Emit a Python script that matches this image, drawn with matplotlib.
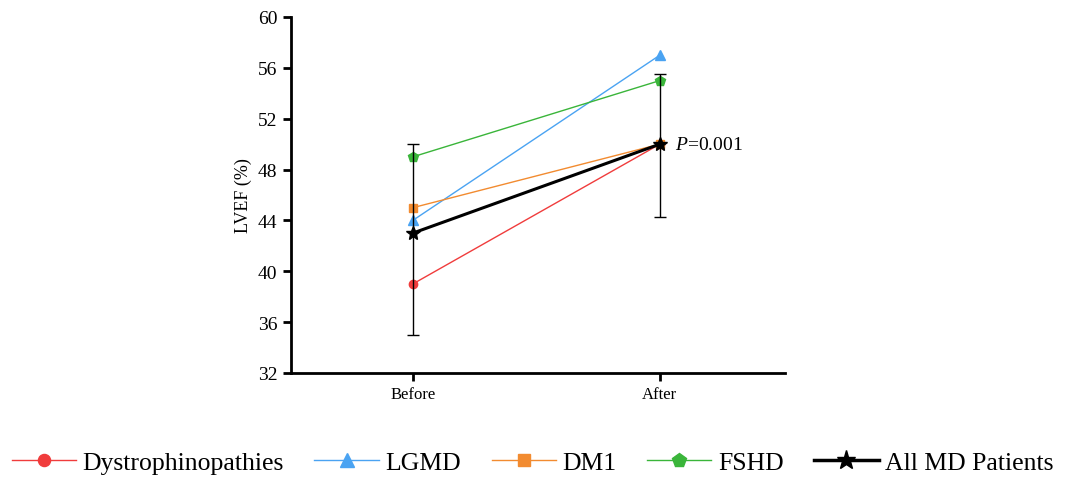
import matplotlib.pyplot as plt
from matplotlib.lines import Line2D

plt.rcParams['font.family'] = ['Liberation Serif', 'DejaVu Serif']
plt.rcParams['mathtext.fontset'] = 'custom'
plt.rcParams['mathtext.it'] = 'Liberation Serif:italic'
plt.rcParams['mathtext.rm'] = 'Liberation Serif'

# LVEF (%) before and after treatment by muscular dystrophy group
timepoints = ['Before', 'After']
dystrophinopathies = [39, 50]
lgmd = [44, 57]
dm1 = [45, 50]
fshd = [49, 55]
all_md = [43, 50]
# error bar lower / upper extents for all MD patients
all_md_err_low = [8, 5.7]
all_md_err_high = [7, 5.5]

fig = plt.figure(figsize=(10.65, 4.81), dpi=100)
ax = fig.add_axes([0.273, 0.2225, 0.464, 0.7401])

x = [0, 1]
groups = [
    (dystrophinopathies, '#f03c3c', 'o', 6, 'Dystrophinopathies'),
    (lgmd, '#4aa3f2', '^', 7, 'LGMD'),
    (dm1, '#f28b30', 's', 6, 'DM1'),
    (fshd, '#3ab53a', 'p', 7, 'FSHD'),
]
handles = []
for vals, col, mk, ms, name in groups:
    ax.plot(x, vals, color=col, marker=mk, ms=ms, lw=1)
    handles.append(Line2D([], [], color=col, marker=mk, ms=ms * 1.45, lw=1, label=name))

ax.errorbar(x, all_md, yerr=[all_md_err_low, all_md_err_high], color='black',
            marker='*', ms=10, lw=2.2, elinewidth=1, capsize=4, capthick=1, zorder=5)
handles.append(Line2D([], [], color='black', marker='*', ms=14, lw=2.5, label='All MD Patients'))

ax.text(1.06, all_md[1], '$P$=0.001', fontsize=14, va='center', ha='left')

ax.set_xlim(-0.494, 1.506)
ax.set_ylim(32, 60)
ax.set_yticks(range(32, 61, 4))
ax.set_xticks(x)
ax.set_xticklabels(timepoints)
ax.set_ylabel('LVEF (%)', fontsize=13)
ax.tick_params(labelsize=12, width=2, length=6)
ax.tick_params(axis='y', labelsize=14)

for side in ['top', 'right']:
    ax.spines[side].set_visible(False)
for side in ['left', 'bottom']:
    ax.spines[side].set_linewidth(2)

fig.legend(handles=handles, loc='lower center', bbox_to_anchor=(0.5, -0.035), ncol=5,
           frameon=False, fontsize=18.5, handlelength=2.5, columnspacing=1.2, handletextpad=0.25)

fig.savefig('out.png', dpi=100)
